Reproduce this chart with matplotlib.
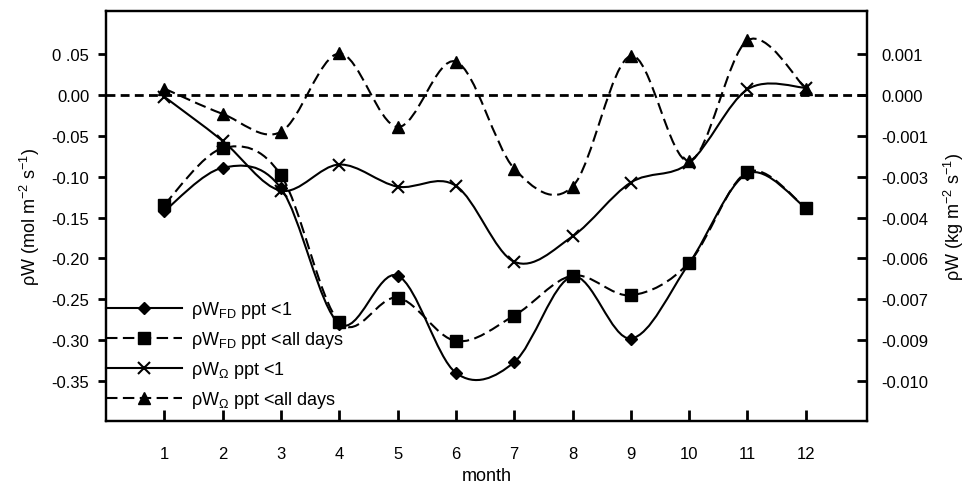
import numpy as np
import matplotlib
matplotlib.use('Agg')
from matplotlib import pyplot as plt
from matplotlib.path import Path
from matplotlib.patches import PathPatch
from matplotlib.lines import Line2D

plt.rcParams['font.family'] = ['Liberation Sans', 'DejaVu Sans']
plt.rcParams['mathtext.default'] = 'regular'

months = [1, 2, 3, 4, 5, 6, 7, 8, 9, 10, 11, 12]

fd_lt1 = [-0.142, -0.089, -0.114, -0.280, -0.221, -0.340, -0.327, -0.222, -0.298, -0.206, -0.096, -0.138]
fd_all = [-0.134, -0.065, -0.098, -0.278, -0.248, -0.301, -0.270, -0.221, -0.245, -0.205, -0.094, -0.138]
om_lt1 = [-0.002, -0.056, -0.117, -0.085, -0.112, -0.111, -0.204, -0.173, -0.107, -0.083, 0.007, 0.009]
om_all = [0.008, -0.023, -0.045, 0.051, -0.039, 0.041, -0.090, -0.112, 0.048, -0.081, 0.067, 0.008]

left_ticks = [0.05, 0.0, -0.05, -0.10, -0.15, -0.20, -0.25, -0.30, -0.35]
left_labels = ['0 .05', '0.00', '-0.05', '-0.10', '-0.15', '-0.20', '-0.25', '-0.30', '-0.35']
right_labels = ['0.001', '0.000', '-0.001', '-0.003', '-0.004', '-0.006', '-0.007', '-0.009', '-0.010']

labels = [r'ρW$_{FD}$ ppt <1', r'ρW$_{FD}$ ppt <all days',
          r'ρW$_{\Omega}$ ppt <1', r'ρW$_{\Omega}$ ppt <all days']


def smooth_path(x, y):
    # Excel-like smoothed line: Catmull-Rom segments as cubic Beziers
    pts = np.column_stack([x, y]).astype(float)
    ext = np.vstack([pts[0], pts, pts[-1]])
    verts = [pts[0]]
    codes = [Path.MOVETO]
    for i in range(len(pts) - 1):
        p0, p1, p2, p3 = ext[i], ext[i + 1], ext[i + 2], ext[i + 3]
        verts += [p1 + (p2 - p0) / 6.0, p2 - (p3 - p1) / 6.0, p2]
        codes += [Path.CURVE4] * 3
    return Path(verts, codes)


fig = plt.figure(figsize=(9.73, 4.85), dpi=100)
ax = fig.add_axes([106 / 973, 1 - 422 / 485, 761 / 973, 410 / 485])

ax.axhline(0, color='black', lw=2.0, ls=(0, (3.2, 1.9)), zorder=1)

dash = (0, (5.5, 2.6))
series = [
    (fd_lt1, '-', 'D', 6.5, 1.0),
    (fd_all, dash, 's', 8.0, 1.0),
    (om_lt1, '-', 'x', 8.0, 1.5),
    (om_all, dash, '^', 8.0, 1.0),
]

handles = []
for (vals, ls, mk, ms, mew), lab in zip(series, labels):
    ax.add_patch(PathPatch(smooth_path(months, vals), fill=False, edgecolor='black',
                           lw=1.5, ls=ls, zorder=2))
    ax.plot(months, vals, ls='none', marker=mk, ms=ms, mew=mew,
            color='black', mfc='black', mec='black', zorder=3)
    handles.append(Line2D([], [], color='black', lw=1.5, ls=ls, marker=mk,
                          ms=ms, mew=mew, mfc='black', mec='black', label=lab))

ax.set_xlim(0, 13.05)
ax.set_ylim(-0.399, 0.103)
ax.set_xticks(months)
ax.set_xticklabels([str(m) for m in months])
ax.set_yticks(left_ticks)
ax.set_yticklabels(left_labels)

ax.tick_params(axis='x', direction='in', length=8, width=2, labelsize=12, pad=18)
ax.tick_params(axis='y', direction='out', length=6, width=2, labelsize=12, pad=6)
for s in ax.spines.values():
    s.set_linewidth(1.6)

ax.set_xlabel('month', fontsize=13, labelpad=4)
ax.set_ylabel(r'ρW (mol m$^{-2}$ s$^{-1}$)', fontsize=13, labelpad=7)

ax2 = ax.twinx()
ax2.set_ylim(ax.get_ylim())
ax2.set_yticks(left_ticks)
ax2.set_yticklabels(right_labels)
ax2.tick_params(axis='y', direction='in', length=7, width=2, labelsize=12, pad=10)
for s in ax2.spines.values():
    s.set_linewidth(1.6)
ax2.set_ylabel(r'ρW (kg m$^{-2}$ s$^{-1}$)', fontsize=13, labelpad=10)

ax.legend(handles=handles, loc='center left', bbox_to_anchor=(0.0, 0.162),
          frameon=False, fontsize=13, handlelength=4.2, handletextpad=0.5,
          labelspacing=0.5, borderpad=0, borderaxespad=0)

plt.savefig('out.png', dpi=100)
